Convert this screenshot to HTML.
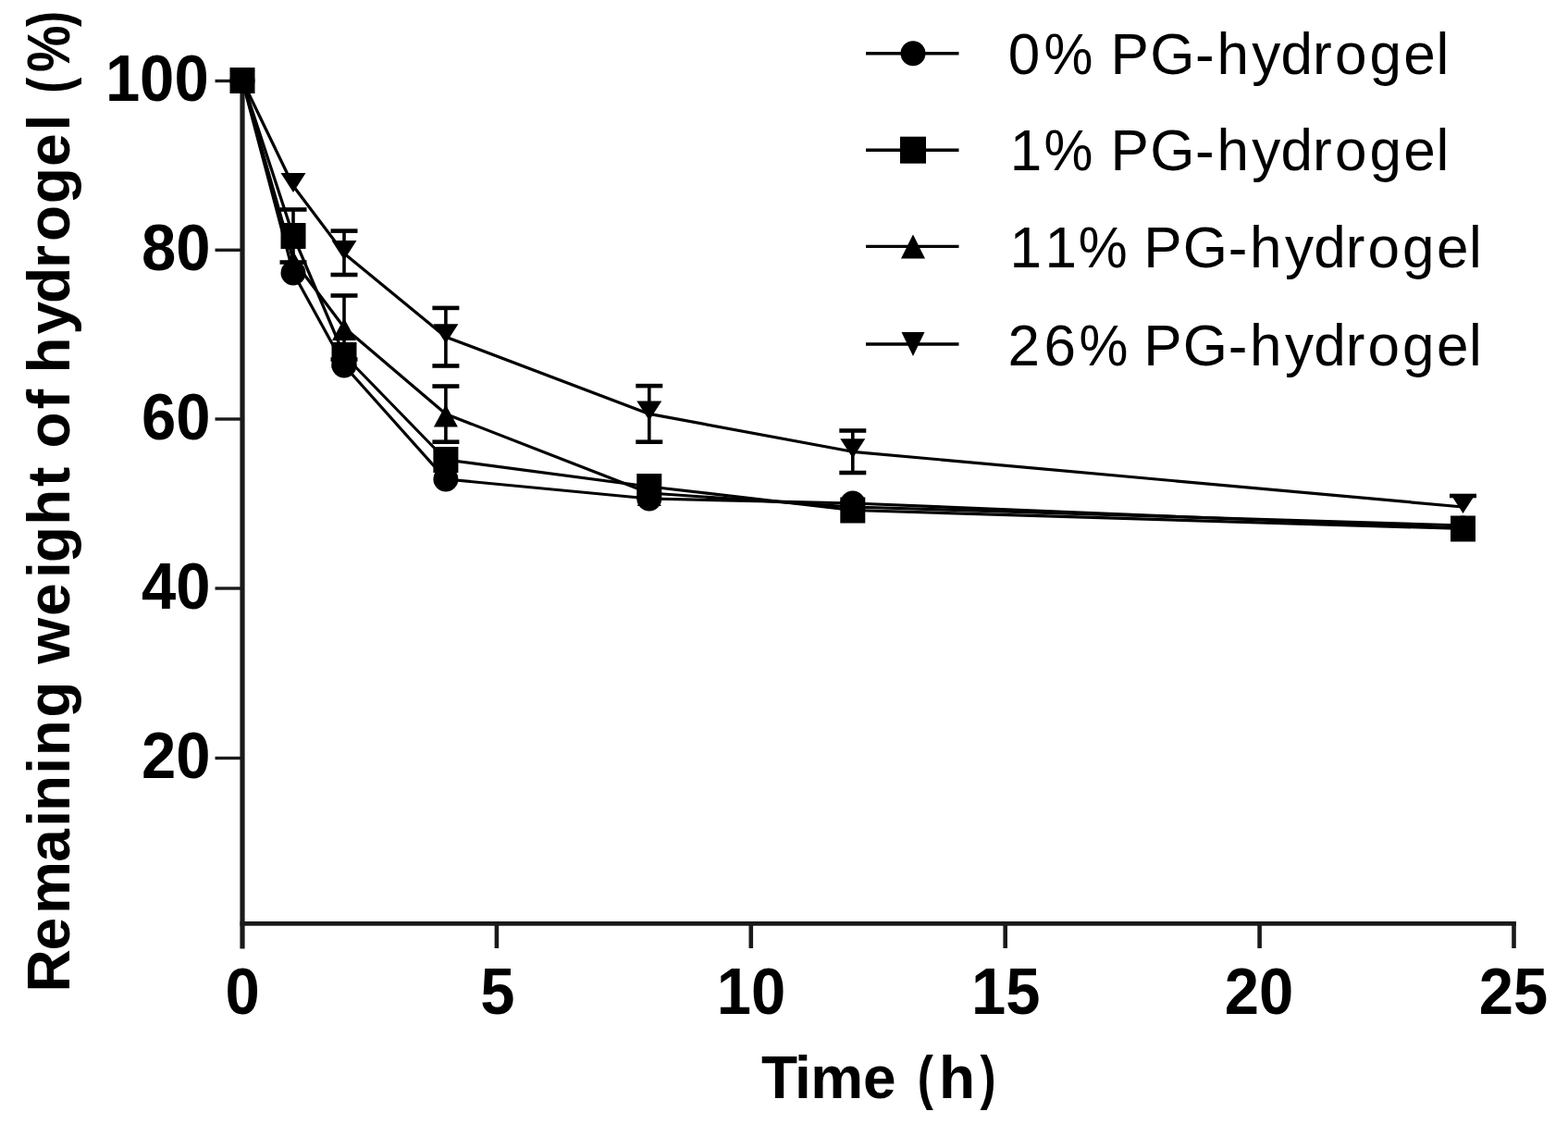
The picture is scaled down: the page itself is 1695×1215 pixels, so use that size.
<!DOCTYPE html>
<html><head><meta charset="utf-8"><title>Remaining weight of hydrogel</title>
<style>
html,body{margin:0;padding:0;background:#fff;}
svg{display:block;}
</style></head>
<body>
<svg width="1695" height="1215" viewBox="0 0 1695 1215">
<rect width="1695" height="1215" fill="#fff"/>
<g stroke="#1a1a1a" fill="none">
<line x1="262" y1="87" x2="262" y2="1025.5" stroke-width="5.2"/>
<line x1="259.5" y1="998.3" x2="1639" y2="998.3" stroke-width="4.8"/>
<line x1="232.5" y1="87.5" x2="260" y2="87.5" stroke-width="3.4"/>
<line x1="232.5" y1="270.3" x2="260" y2="270.3" stroke-width="3.4"/>
<line x1="232.5" y1="453" x2="260" y2="453" stroke-width="3.4"/>
<line x1="232.5" y1="636" x2="260" y2="636" stroke-width="3.4"/>
<line x1="232.5" y1="819.5" x2="260" y2="819.5" stroke-width="3.4"/>
<line x1="536.9" y1="998" x2="536.9" y2="1025" stroke-width="4.6"/>
<line x1="811.8" y1="998" x2="811.8" y2="1025" stroke-width="4.6"/>
<line x1="1086.7" y1="998" x2="1086.7" y2="1025" stroke-width="4.6"/>
<line x1="1361.6" y1="998" x2="1361.6" y2="1025" stroke-width="4.6"/>
<line x1="1636.5" y1="998" x2="1636.5" y2="1025" stroke-width="4.6"/>
</g>
<g stroke="#000" stroke-width="3.2" fill="none" stroke-linejoin="round">
<polyline points="262.0,87 317.0,295 372.0,395 481.9,518 701.8,539 921.8,544 1581.5,571"/>
<polyline points="262.0,87 317.0,255 372.0,384 481.9,497 701.8,526 921.8,551.5 1581.5,571.5"/>
<polyline points="262.0,87 317.0,281 372.0,354 481.9,447.5 701.8,533 921.8,548 1581.5,568"/>
<polyline points="262.0,87 317.0,201 372.0,274 481.9,364.2 701.8,447.4 921.8,488.3 1581.5,548"/>
</g>
<g stroke="#000" fill="none">
<line x1="372.0" y1="249.6" x2="372.0" y2="297" stroke-width="3.6"/>
<line x1="357.5" y1="249.6" x2="386.5" y2="249.6" stroke-width="4.6"/>
<line x1="357.5" y1="297" x2="386.5" y2="297" stroke-width="4.6"/>
<line x1="481.9" y1="332.9" x2="481.9" y2="395.5" stroke-width="3.6"/>
<line x1="467.4" y1="332.9" x2="496.4" y2="332.9" stroke-width="4.6"/>
<line x1="467.4" y1="395.5" x2="496.4" y2="395.5" stroke-width="4.6"/>
<line x1="701.8" y1="417.1" x2="701.8" y2="477.7" stroke-width="3.6"/>
<line x1="687.3" y1="417.1" x2="716.3" y2="417.1" stroke-width="4.6"/>
<line x1="687.3" y1="477.7" x2="716.3" y2="477.7" stroke-width="4.6"/>
<line x1="921.8" y1="465.5" x2="921.8" y2="511" stroke-width="3.6"/>
<line x1="907.3" y1="465.5" x2="936.3" y2="465.5" stroke-width="4.6"/>
<line x1="907.3" y1="511" x2="936.3" y2="511" stroke-width="4.6"/>
<line x1="1581.5" y1="536" x2="1581.5" y2="548" stroke-width="3.6"/>
<line x1="1567.0" y1="536" x2="1596.0" y2="536" stroke-width="4.6"/>
<line x1="372.0" y1="319.5" x2="372.0" y2="388.5" stroke-width="3.6"/>
<line x1="357.5" y1="319.5" x2="386.5" y2="319.5" stroke-width="4.6"/>
<line x1="357.5" y1="388.5" x2="386.5" y2="388.5" stroke-width="4.6"/>
<line x1="481.9" y1="417.5" x2="481.9" y2="477.7" stroke-width="3.6"/>
<line x1="467.4" y1="417.5" x2="496.4" y2="417.5" stroke-width="4.6"/>
<line x1="467.4" y1="477.7" x2="496.4" y2="477.7" stroke-width="4.6"/>
<line x1="317.0" y1="226.5" x2="317.0" y2="283.5" stroke-width="3.6"/>
<line x1="302.5" y1="226.5" x2="331.5" y2="226.5" stroke-width="4.6"/>
<line x1="302.5" y1="283.5" x2="331.5" y2="283.5" stroke-width="4.6"/>
</g>
<g fill="#000">
<polygon points="249.0,99.0 275.0,99.0 262.0,75.0"/>
<polygon points="304.0,295.0 330.0,295.0 317.0,271.0"/>
<polygon points="359.0,368.0 385.0,368.0 372.0,344.0"/>
<polygon points="468.9,461.5 494.9,461.5 481.9,437.5"/>
<polygon points="688.8,547.0 714.8,547.0 701.8,523.0"/>
<polygon points="908.8,562.0 934.8,562.0 921.8,538.0"/>
<polygon points="1568.5,582.0 1594.5,582.0 1581.5,558.0"/>
<ellipse cx="262.0" cy="87.0" rx="13.5" ry="13.5"/>
<ellipse cx="317.0" cy="295.0" rx="13.5" ry="13.5"/>
<ellipse cx="372.0" cy="395.0" rx="13.5" ry="13.5"/>
<ellipse cx="481.9" cy="518.0" rx="13.5" ry="13.5"/>
<ellipse cx="701.8" cy="539.0" rx="13.5" ry="13.5"/>
<ellipse cx="921.8" cy="544.0" rx="13.5" ry="13.5"/>
<ellipse cx="1581.5" cy="571.0" rx="13.5" ry="13.5"/>
<rect x="248.5" y="73.0" width="27.0" height="28.0"/>
<rect x="303.5" y="241.0" width="27.0" height="28.0"/>
<rect x="358.5" y="370.0" width="27.0" height="28.0"/>
<rect x="468.4" y="483.0" width="27.0" height="28.0"/>
<rect x="688.3" y="512.0" width="27.0" height="28.0"/>
<rect x="908.3" y="537.5" width="27.0" height="28.0"/>
<rect x="1568.0" y="557.5" width="27.0" height="28.0"/>
<polygon points="248.5,76.5 275.5,76.5 262.0,97.5"/>
<polygon points="303.5,187.0 330.5,187.0 317.0,208.0"/>
<polygon points="358.5,260.0 385.5,260.0 372.0,281.0"/>
<polygon points="468.4,350.2 495.4,350.2 481.9,371.2"/>
<polygon points="688.3,433.4 715.3,433.4 701.8,454.4"/>
<polygon points="908.3,474.3 935.3,474.3 921.8,495.3"/>
<polygon points="1568.0,534.0 1595.0,534.0 1581.5,555.0"/>
</g>
<g font-family="Liberation Sans, Arial, sans-serif" font-weight="bold" fill="#000">
<text transform="translate(0,109.0) scale(1,1.04)" x="113.9 151.1 188.4" y="0" font-size="67" >100</text>
<text transform="translate(0,291.8) scale(1,1.04)" x="152.9 190.2" y="0" font-size="67" >80</text>
<text transform="translate(0,474.5) scale(1,1.04)" x="152.9 190.2" y="0" font-size="67" >60</text>
<text transform="translate(0,657.5) scale(1,1.04)" x="152.9 190.2" y="0" font-size="67" >40</text>
<text transform="translate(0,841.0) scale(1,1.04)" x="152.9 190.2" y="0" font-size="67" >20</text>
<text transform="translate(0,1095.7) scale(1,1.04)" x="243.4" y="0" font-size="67" >0</text>
<text transform="translate(0,1095.7) scale(1,1.04)" x="519.3" y="0" font-size="67" >5</text>
<text transform="translate(0,1095.7) scale(1,1.04)" x="774.7 812.0" y="0" font-size="67" >10</text>
<text transform="translate(0,1095.7) scale(1,1.04)" x="1050.0 1087.2" y="0" font-size="67" >15</text>
<text transform="translate(0,1095.7) scale(1,1.04)" x="1323.7 1360.9" y="0" font-size="67" >20</text>
<text transform="translate(0,1095.7) scale(1,1.04)" x="1598.7 1636.0" y="0" font-size="67" >25</text>
<text transform="translate(0,1187.2) scale(1,1.01)" x="822.9 859.0 876.3 933.0 968.6 991.7 1015.0 1059.4" y="0" font-size="64" >Time <tspan textLength="17.1" lengthAdjust="spacingAndGlyphs">(</tspan>h<tspan textLength="17.1" lengthAdjust="spacingAndGlyphs">)</tspan></text>
</g>
<text font-family="Liberation Sans, Arial, sans-serif" font-weight="bold" font-size="64" fill="#000" transform="translate(75.3,1080.0) rotate(-90) scale(1,1.01)" x="7.4 52.5 92.0 148.2 186.3 203.0 243.3 262.8 304.2 343.3 362.3 414.0 455.1 471.7 512.2 553.9 575.2 595.4 637.7 659.0 676.6 718.6 752.0 790.1 819.1 859.7 899.9 938.6 956.4 979.2 1002.1 1051.0" y="0">Remaining weight of hydrogel <tspan textLength="17.1" lengthAdjust="spacingAndGlyphs">(</tspan><tspan textLength="50.4" lengthAdjust="spacingAndGlyphs">%</tspan><tspan textLength="17.1" lengthAdjust="spacingAndGlyphs">)</tspan></text>
<g font-family="Liberation Sans, Arial, sans-serif" fill="#000">
<line x1="936" y1="57.7" x2="1036.5" y2="57.7" stroke="#000" stroke-width="3.4"/>
<ellipse cx="987.0" cy="57.7" rx="13.5" ry="13.5"/>
<text transform="translate(0,79.6) scale(1,1.01)" x="1089.7 1128.4 1181.3 1200.6 1243.2 1292.1 1315.4 1353.3 1384.6 1419.1 1442.9 1480.5 1517.3 1552.5" y="0" font-size="62" >0<tspan textLength="52.9" lengthAdjust="spacingAndGlyphs">%</tspan> PG-hydrogel</text>
<line x1="936" y1="162.2" x2="1036.5" y2="162.2" stroke="#000" stroke-width="3.4"/>
<rect x="973.0" y="147.7" width="28.0" height="29.0"/>
<text transform="translate(0,184.3) scale(1,1.01)" x="1091.8 1128.4 1181.3 1200.6 1243.2 1292.1 1315.4 1353.3 1384.6 1419.1 1442.9 1480.5 1517.3 1552.5" y="0" font-size="62" >1<tspan textLength="52.9" lengthAdjust="spacingAndGlyphs">%</tspan> PG-hydrogel</text>
<line x1="936" y1="266.4" x2="1036.5" y2="266.4" stroke="#000" stroke-width="3.4"/>
<polygon points="974.0,279.4 1000.0,279.4 987.0,253.4"/>
<text transform="translate(0,289.0) scale(1,1.01)" x="1091.4 1129.5 1165.7 1218.6 1236.2 1278.8 1327.7 1351.0 1388.9 1420.2 1454.7 1478.5 1516.1 1552.9 1588.1" y="0" font-size="62" >11<tspan textLength="52.9" lengthAdjust="spacingAndGlyphs">%</tspan> PG-hydrogel</text>
<line x1="936" y1="372.0" x2="1036.5" y2="372.0" stroke="#000" stroke-width="3.4"/>
<polygon points="974.5,359.0 999.5,359.0 987.0,385.0"/>
<text transform="translate(0,394.5) scale(1,1.01)" x="1089.5 1128.4 1166.6 1219.5 1236.2 1278.8 1327.7 1351.0 1388.9 1420.2 1454.7 1478.5 1516.1 1552.9 1588.1" y="0" font-size="62" >26<tspan textLength="52.9" lengthAdjust="spacingAndGlyphs">%</tspan> PG-hydrogel</text>
</g>
</svg>
</body></html>
